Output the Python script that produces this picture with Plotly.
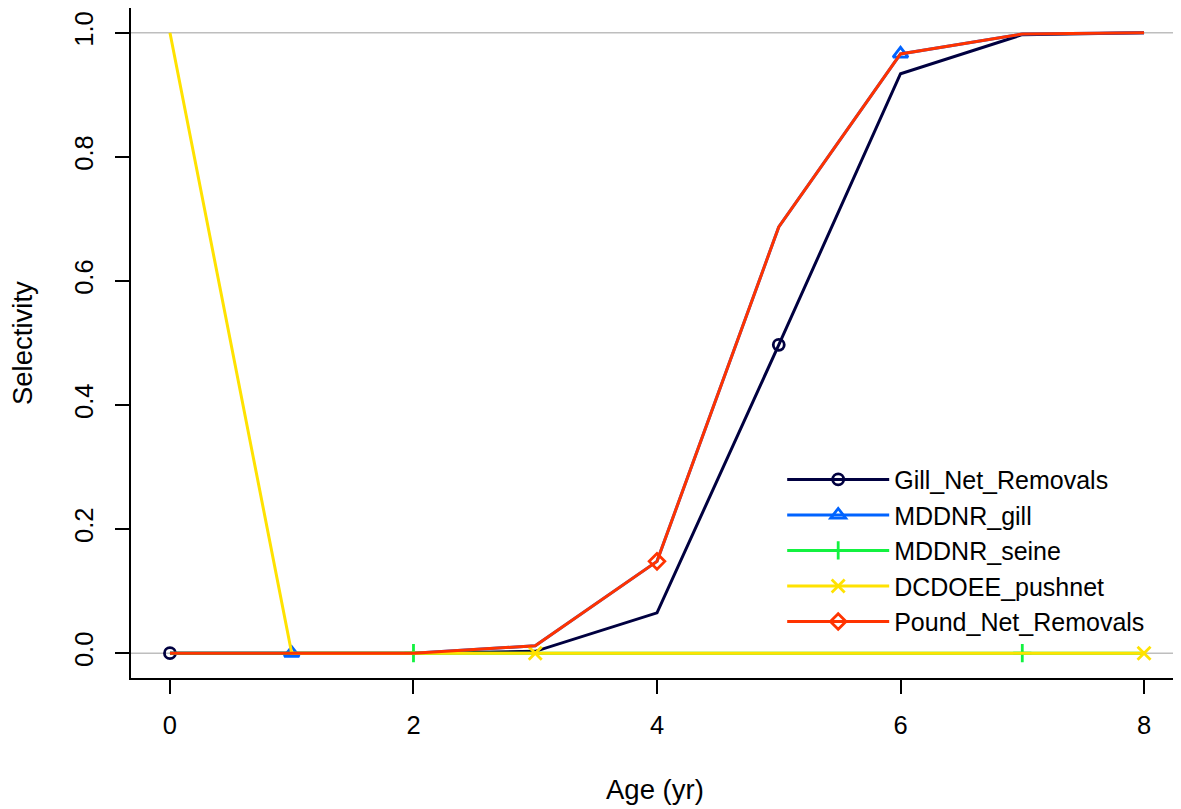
import plotly.graph_objects as go

ages = [0, 1, 2, 3, 4, 5, 6, 7, 8]
series_names = ["Gill_Net_Removals", "MDDNR_gill", "MDDNR_seine", "DCDOEE_pushnet", "Pound_Net_Removals"]
gill_net = [0, 0, 0, 0.003, 0.065, 0.497, 0.934, 0.997, 1.0]
mddnr_gill = [0, 0, 0, 0.012, 0.148, 0.687, 0.966, 0.998, 1.0]
mddnr_seine = [0, 0, 0, 0, 0, 0, 0, 0, 0]
dcdoee_pushnet = [1.0, 0, 0, 0, 0, 0, 0, 0, 0]
pound_net = [0, 0, 0, 0.012, 0.148, 0.687, 0.966, 0.998, 1.0]
values = [gill_net, mddnr_gill, mddnr_seine, dcdoee_pushnet, pound_net]
colors = ["#000040", "#0063FF", "#13F240", "#FFE201", "#FF3300"]
symbols = ["circle-open", "triangle-up-open", "cross-thin-open", "x-thin-open", "diamond-open"]
msizes = [11, 13, 13, 13, 12]
x_ticks = [0, 2, 4, 6, 8]
y_ticks = [0, 0.2, 0.4, 0.6, 0.8, 1.0]
x_title = "Age (yr)"
y_title = "Selectivity"

font = "Liberation Sans, Arial, sans-serif"
FS = 25.5
TFS = 27.5
fig = go.Figure()

for i, (name, vals) in enumerate(zip(series_names, values)):
    fig.add_trace(go.Scatter(x=ages, y=vals, mode="lines", line=dict(color=colors[i], width=3),
                             showlegend=False, hoverinfo="skip"))
    mx = [a for j, a in enumerate(ages) if j % 5 == i]
    my = [v for j, v in enumerate(vals) if j % 5 == i]
    fig.add_trace(go.Scatter(x=mx, y=my, mode="markers",
                             marker=dict(symbol=symbols[i], size=msizes[i], color=colors[i],
                                         line=dict(color=colors[i], width=2.8)),
                             showlegend=False))
    fig.add_trace(go.Scatter(x=[None], y=[None], mode="lines+markers", name=name,
                             line=dict(color=colors[i], width=3),
                             marker=dict(symbol=symbols[i], size=msizes[i], color=colors[i],
                                         line=dict(color=colors[i], width=2.8))))

for yv in [0, 1]:
    fig.add_shape(type="line", xref="paper", x0=0, x1=1, yref="y", y0=yv, y1=yv,
                  line=dict(color="#BEBEBE", width=1.5), layer="below")

fig.add_annotation(text=x_title, xref="paper", yref="paper", x=0.498, y=-0.167,
                   xanchor="center", yanchor="middle", showarrow=False,
                   font=dict(size=TFS, family=font, color="black"))
fig.add_annotation(text=y_title, xref="paper", yref="paper", x=-0.1036, y=0.5, textangle=-90,
                   xanchor="center", yanchor="middle", showarrow=False,
                   font=dict(size=TFS, family=font, color="black"))

fig.update_layout(
    width=1181, height=809,
    margin=dict(l=123, r=6, t=0, b=139),
    paper_bgcolor="white", plot_bgcolor="white",
    font=dict(family=font, size=FS, color="black"),
    legend=dict(x=0.619, y=0.19, xanchor="left", yanchor="middle",
                bgcolor="rgba(0,0,0,0)", font=dict(size=25), tracegroupgap=0,
                itemwidth=102),
)
fig.update_xaxes(range=[-0.32, 8.32], tickvals=x_ticks, ticktext=[str(t) for t in x_ticks],
                 automargin=False,
                 showgrid=False, zeroline=False, showline=True, linecolor="black", linewidth=2,
                 mirror=True, ticks="outside", ticklen=14, tickwidth=2, tickcolor="black",
                 ticklabelstandoff=9, tickfont=dict(size=FS))
fig.update_yaxes(range=[-0.04, 1.04], tickvals=y_ticks, ticktext=["%.1f" % t for t in y_ticks],
                 automargin=False, tickangle=-90, ticklabelstandoff=12,
                 showgrid=False, zeroline=False, showline=True, linecolor="black", linewidth=2,
                 mirror=True, ticks="outside", ticklen=14, tickwidth=2, tickcolor="black",
                 tickfont=dict(size=FS))

fig.write_html("out.html")
